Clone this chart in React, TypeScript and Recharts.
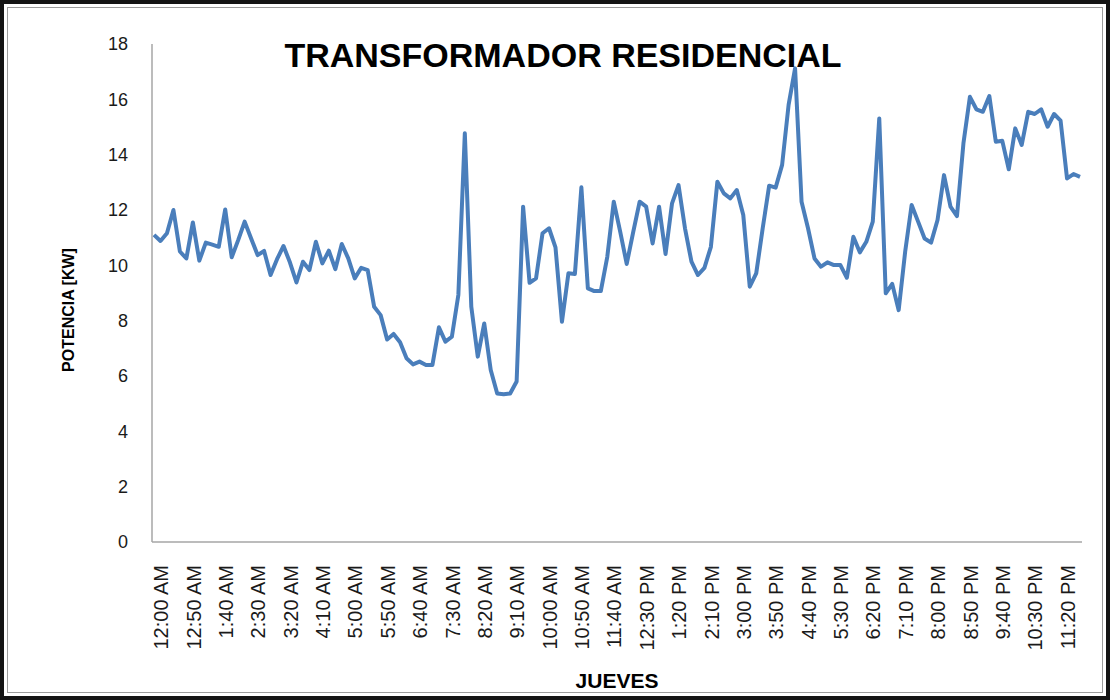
import { LineChart, Line, XAxis, YAxis } from "recharts";

const titleText = "TRANSFORMADOR RESIDENCIAL";
const yAxisTitle = "POTENCIA [KW]";
const xAxisTitle = "JUEVES";

// lecturas cada 10 minutos
const times = [
  "12:00 AM", "12:10 AM", "12:20 AM", "12:30 AM", "12:40 AM", "12:50 AM",
  "1:00 AM", "1:10 AM", "1:20 AM", "1:30 AM", "1:40 AM", "1:50 AM",
  "2:00 AM", "2:10 AM", "2:20 AM", "2:30 AM", "2:40 AM", "2:50 AM",
  "3:00 AM", "3:10 AM", "3:20 AM", "3:30 AM", "3:40 AM", "3:50 AM",
  "4:00 AM", "4:10 AM", "4:20 AM", "4:30 AM", "4:40 AM", "4:50 AM",
  "5:00 AM", "5:10 AM", "5:20 AM", "5:30 AM", "5:40 AM", "5:50 AM",
  "6:00 AM", "6:10 AM", "6:20 AM", "6:30 AM", "6:40 AM", "6:50 AM",
  "7:00 AM", "7:10 AM", "7:20 AM", "7:30 AM", "7:40 AM", "7:50 AM",
  "8:00 AM", "8:10 AM", "8:20 AM", "8:30 AM", "8:40 AM", "8:50 AM",
  "9:00 AM", "9:10 AM", "9:20 AM", "9:30 AM", "9:40 AM", "9:50 AM",
  "10:00 AM", "10:10 AM", "10:20 AM", "10:30 AM", "10:40 AM", "10:50 AM",
  "11:00 AM", "11:10 AM", "11:20 AM", "11:30 AM", "11:40 AM", "11:50 AM",
  "12:00 PM", "12:10 PM", "12:20 PM", "12:30 PM", "12:40 PM", "12:50 PM",
  "1:00 PM", "1:10 PM", "1:20 PM", "1:30 PM", "1:40 PM", "1:50 PM",
  "2:00 PM", "2:10 PM", "2:20 PM", "2:30 PM", "2:40 PM", "2:50 PM",
  "3:00 PM", "3:10 PM", "3:20 PM", "3:30 PM", "3:40 PM", "3:50 PM",
  "4:00 PM", "4:10 PM", "4:20 PM", "4:30 PM", "4:40 PM", "4:50 PM",
  "5:00 PM", "5:10 PM", "5:20 PM", "5:30 PM", "5:40 PM", "5:50 PM",
  "6:00 PM", "6:10 PM", "6:20 PM", "6:30 PM", "6:40 PM", "6:50 PM",
  "7:00 PM", "7:10 PM", "7:20 PM", "7:30 PM", "7:40 PM", "7:50 PM",
  "8:00 PM", "8:10 PM", "8:20 PM", "8:30 PM", "8:40 PM", "8:50 PM",
  "9:00 PM", "9:10 PM", "9:20 PM", "9:30 PM", "9:40 PM", "9:50 PM",
  "10:00 PM", "10:10 PM", "10:20 PM", "10:30 PM", "10:40 PM", "10:50 PM",
  "11:00 PM", "11:10 PM", "11:20 PM", "11:30 PM", "11:40 PM", "11:50 PM"
];

const potencia = [
  11.1, 10.88, 11.16, 12.0, 10.5, 10.25, 11.55, 10.17, 10.82, 10.75, 10.67, 12.02,
  10.29, 10.91, 11.58, 10.97, 10.37, 10.52, 9.65, 10.22, 10.7, 10.1, 9.38, 10.13,
  9.83, 10.85, 10.07, 10.53, 9.86, 10.77, 10.25, 9.53, 9.91, 9.83, 8.5, 8.2,
  7.32, 7.52, 7.22, 6.64, 6.42, 6.52, 6.4, 6.4, 7.76, 7.24, 7.42, 8.93,
  14.77, 8.5, 6.7, 7.9, 6.22, 5.37, 5.34, 5.37, 5.8, 12.12, 9.37, 9.53,
  11.16, 11.34, 10.65, 7.96, 9.71, 9.69, 12.82, 9.17, 9.07, 9.07, 10.31, 12.3,
  11.21, 10.05, 11.2, 12.3, 12.12, 10.79, 12.12, 10.41, 12.24, 12.9, 11.34, 10.13,
  9.65, 9.91, 10.67, 13.02, 12.6, 12.42, 12.72, 11.82, 9.23, 9.71, 11.34, 12.88,
  12.81, 13.63, 15.8, 17.12, 12.3, 11.34, 10.25, 9.95, 10.11, 10.01, 10.01, 9.55,
  11.03, 10.47, 10.85, 11.58, 15.31, 8.99, 9.33, 8.38, 10.49, 12.18, 11.58, 10.97,
  10.82, 11.64, 13.26, 12.12, 11.78, 14.41, 16.09, 15.64, 15.55, 16.12, 14.47, 14.5,
  13.47, 14.95, 14.35, 15.55, 15.47, 15.64, 15.01, 15.47, 15.23, 13.14, 13.3, 13.2
];

const yTicks = [0, 2, 4, 6, 8, 10, 12, 14, 16, 18];

const data = times.map((t, i) => ({ time: t, kw: potencia[i] }));

const font = "'Liberation Sans', Arial, sans-serif";

export default function App() {
  return (
    <div style={{ position: "absolute", left: 0, top: 0, width: 1110, height: 700, background: "#fff" }}>
      <div
        style={{
          position: "absolute",
          inset: 0,
          boxSizing: "border-box",
          border: "4px solid #141414",
          boxShadow: "inset 0 0 0 3px #fff, inset 0 0 0 4px #9c9c9c"
        }}
      />
      <div style={{ position: "absolute", left: 0, top: 0 }}>
        <LineChart
          width={1110}
          height={700}
          data={data}
          margin={{ top: 44, right: 28, bottom: 0, left: 0 }}
        >
          <XAxis
            dataKey="time"
            interval={4}
            height={158}
            angle={-90}
            textAnchor="end"
            tickLine={false}
            tickMargin={17}
            padding={{ left: 2, right: 2 }}
            axisLine={{ stroke: "#a6a6a6", strokeWidth: 1.5 }}
            tick={{ fontSize: 20, fill: "#1a1a1a", fontFamily: font }}
          />
          <YAxis
            type="number"
            domain={[0, 18]}
            ticks={yTicks}
            width={152}
            tickLine={false}
            tickMargin={18}
            axisLine={{ stroke: "#a6a6a6", strokeWidth: 1.5 }}
            tick={{ fontSize: 18, fill: "#1a1a1a", fontFamily: font }}
          />
          <Line
            type="linear"
            dataKey="kw"
            stroke="#4a7ebb"
            strokeWidth={4}
            strokeLinejoin="round"
            dot={false}
            activeDot={false}
            isAnimationActive={false}
          />
        </LineChart>
      </div>
      <svg
        width={1110}
        height={700}
        style={{ position: "absolute", left: 0, top: 0, pointerEvents: "none" }}
      >
        <text x={563} y={67} textAnchor="middle" fontFamily={font} fontWeight="bold" fontSize={34} fill="#000">
          {titleText}
        </text>
        <text
          x={74}
          y={310}
          textAnchor="middle"
          fontFamily={font}
          fontWeight="bold"
          fontSize={16}
          fill="#000"
          transform="rotate(-90 74 310)"
        >
          {yAxisTitle}
        </text>
        <text x={617} y={688} textAnchor="middle" fontFamily={font} fontWeight="bold" fontSize={21} fill="#000">
          {xAxisTitle}
        </text>
      </svg>
    </div>
  );
}
